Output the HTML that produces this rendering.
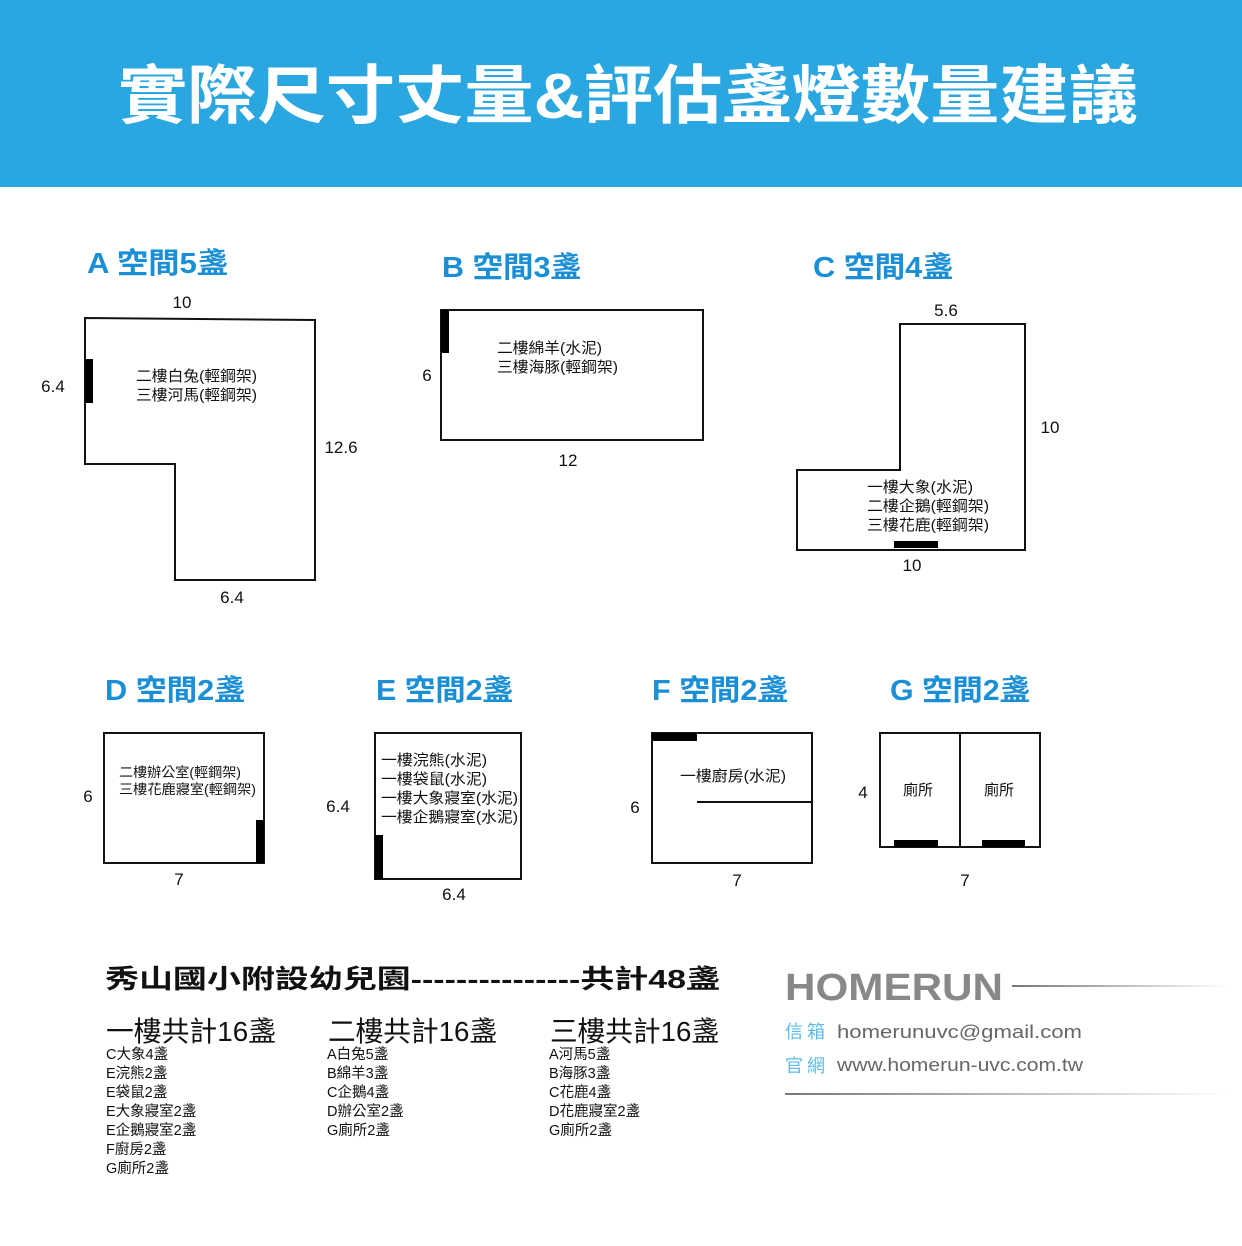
<!DOCTYPE html>
<html><head><meta charset="utf-8"><style>
html,body{margin:0;padding:0;background:#fff}
svg text{font-family:"Liberation Sans","Noto Sans CJK TC",sans-serif}
</style></head><body>
<svg width="1242" height="1241" viewBox="0 0 1242 1241" xmlns="http://www.w3.org/2000/svg">
<defs>
<linearGradient id="g1" x1="0" x2="1"><stop offset="0" stop-color="#777"/><stop offset="1" stop-color="#fff"/></linearGradient>
</defs>
<rect x="0" y="0" width="1242" height="187" fill="#2aa7e0"/>
<text x="118" y="118" font-size="64" font-weight="bold" fill="#fff" textLength="1020" lengthAdjust="spacingAndGlyphs">實際尺寸丈量&amp;評估盞燈數量建議</text>

<g font-size="29" font-weight="bold" fill="#1b8fd6">
<text x="87" y="273" textLength="141" lengthAdjust="spacingAndGlyphs">A 空間5盞</text>
<text x="442" y="277" textLength="139" lengthAdjust="spacingAndGlyphs">B 空間3盞</text>
<text x="813" y="277" textLength="140" lengthAdjust="spacingAndGlyphs">C 空間4盞</text>
<text x="105" y="700" textLength="140" lengthAdjust="spacingAndGlyphs">D 空間2盞</text>
<text x="376" y="700" textLength="137" lengthAdjust="spacingAndGlyphs">E 空間2盞</text>
<text x="652" y="700" textLength="136" lengthAdjust="spacingAndGlyphs">F 空間2盞</text>
<text x="890" y="700" textLength="140" lengthAdjust="spacingAndGlyphs">G 空間2盞</text>
</g>

<g fill="none" stroke="#111" stroke-width="2">
<polygon points="85,318 315,320 315,580 175,580 175,464 85,464"/>
<rect x="441" y="310" width="262" height="130"/>
<polygon points="900,324 1025,324 1025,550 797,550 797,470 900,470"/>
<rect x="104" y="733" width="160" height="130"/>
<rect x="375" y="733" width="146" height="146"/>
<rect x="652" y="733" width="160" height="130"/>
<line x1="697" y1="802" x2="812" y2="802"/>
<rect x="880" y="733" width="160" height="114"/>
<line x1="960" y1="733" x2="960" y2="847"/>
</g>
<g fill="#000">
<rect x="85" y="359" width="8" height="44"/>
<rect x="441" y="310" width="8" height="43"/>
<rect x="894" y="541" width="44" height="7"/>
<rect x="256" y="820" width="8" height="43"/>
<rect x="375" y="835" width="8" height="44"/>
<rect x="652" y="733" width="45" height="8"/>
<rect x="894" y="840" width="44" height="7"/>
<rect x="982" y="840" width="43" height="7"/>
</g>

<g font-size="17" fill="#111">
<text x="182" y="308" text-anchor="middle">10</text>
<text x="53" y="392" text-anchor="middle">6.4</text>
<text x="341" y="453" text-anchor="middle">12.6</text>
<text x="232" y="603" text-anchor="middle">6.4</text>
<text x="427" y="381" text-anchor="middle">6</text>
<text x="568" y="466" text-anchor="middle">12</text>
<text x="946" y="316" text-anchor="middle">5.6</text>
<text x="1050" y="433" text-anchor="middle">10</text>
<text x="912" y="571" text-anchor="middle">10</text>
<text x="88" y="802" text-anchor="middle">6</text>
<text x="179" y="885" text-anchor="middle">7</text>
<text x="338" y="812" text-anchor="middle">6.4</text>
<text x="454" y="900" text-anchor="middle">6.4</text>
<text x="635" y="813" text-anchor="middle">6</text>
<text x="737" y="886" text-anchor="middle">7</text>
<text x="863" y="798" text-anchor="middle">4</text>
<text x="965" y="886" text-anchor="middle">7</text>
</g>

<g font-size="15" fill="#111">
<text x="136" y="381" textLength="121" lengthAdjust="spacingAndGlyphs">二樓白兔(輕鋼架)</text>
<text x="136" y="400" textLength="121" lengthAdjust="spacingAndGlyphs">三樓河馬(輕鋼架)</text>
<text x="497" y="353" textLength="105" lengthAdjust="spacingAndGlyphs">二樓綿羊(水泥)</text>
<text x="497" y="372" textLength="121" lengthAdjust="spacingAndGlyphs">三樓海豚(輕鋼架)</text>
<text x="867" y="492" textLength="106" lengthAdjust="spacingAndGlyphs">一樓大象(水泥)</text>
<text x="867" y="511" textLength="122" lengthAdjust="spacingAndGlyphs">二樓企鵝(輕鋼架)</text>
<text x="867" y="530" textLength="122" lengthAdjust="spacingAndGlyphs">三樓花鹿(輕鋼架)</text>
<text x="119" y="777" font-size="13.5" textLength="122" lengthAdjust="spacingAndGlyphs">二樓辦公室(輕鋼架)</text>
<text x="119" y="794" font-size="13.5" textLength="137" lengthAdjust="spacingAndGlyphs">三樓花鹿寢室(輕鋼架)</text>
<text x="381" y="765" textLength="106" lengthAdjust="spacingAndGlyphs">一樓浣熊(水泥)</text>
<text x="381" y="784" textLength="106" lengthAdjust="spacingAndGlyphs">一樓袋鼠(水泥)</text>
<text x="381" y="803" textLength="137" lengthAdjust="spacingAndGlyphs">一樓大象寢室(水泥)</text>
<text x="381" y="822" textLength="137" lengthAdjust="spacingAndGlyphs">一樓企鵝寢室(水泥)</text>
<text x="680" y="781" textLength="106" lengthAdjust="spacingAndGlyphs">一樓廚房(水泥)</text>
<text x="903" y="795">廁所</text>
<text x="984" y="795">廁所</text>
</g>

<text x="105" y="988" font-size="26" font-weight="bold" fill="#111" textLength="615" lengthAdjust="spacingAndGlyphs">秀山國小附設幼兒園---------------共計48盞</text>
<g font-size="28" fill="#111">
<text x="106" y="1041" textLength="170" lengthAdjust="spacingAndGlyphs">一樓共計16盞</text>
<text x="328" y="1041" textLength="169" lengthAdjust="spacingAndGlyphs">二樓共計16盞</text>
<text x="550" y="1041" textLength="169" lengthAdjust="spacingAndGlyphs">三樓共計16盞</text>
</g>
<g font-size="14.5" fill="#111">
<text x="106" y="1059">C大象4盞</text>
<text x="106" y="1078">E浣熊2盞</text>
<text x="106" y="1097">E袋鼠2盞</text>
<text x="106" y="1116">E大象寢室2盞</text>
<text x="106" y="1135">E企鵝寢室2盞</text>
<text x="106" y="1154">F廚房2盞</text>
<text x="106" y="1173">G廁所2盞</text>
<text x="327" y="1059">A白兔5盞</text>
<text x="327" y="1078">B綿羊3盞</text>
<text x="327" y="1097">C企鵝4盞</text>
<text x="327" y="1116">D辦公室2盞</text>
<text x="327" y="1135">G廁所2盞</text>
<text x="549" y="1059">A河馬5盞</text>
<text x="549" y="1078">B海豚3盞</text>
<text x="549" y="1097">C花鹿4盞</text>
<text x="549" y="1116">D花鹿寢室2盞</text>
<text x="549" y="1135">G廁所2盞</text>
</g>

<text x="785" y="1000" font-size="38" font-weight="bold" fill="#888" textLength="218" lengthAdjust="spacingAndGlyphs">HOMERUN</text>
<rect x="1012" y="985" width="215" height="2" fill="url(#g1)"/>
<text x="785" y="1038" font-size="18" fill="#5bbbe6" letter-spacing="4">信箱</text>
<text x="837" y="1038" font-size="18" fill="#666" textLength="245" lengthAdjust="spacingAndGlyphs">homerunuvc@gmail.com</text>
<text x="785" y="1072" font-size="18" fill="#5bbbe6" letter-spacing="4">官網</text>
<text x="837" y="1071" font-size="18" fill="#666" textLength="246" lengthAdjust="spacingAndGlyphs">www.homerun-uvc.com.tw</text>
<rect x="785" y="1093" width="445" height="2" fill="url(#g1)"/>
</svg>
</body></html>
